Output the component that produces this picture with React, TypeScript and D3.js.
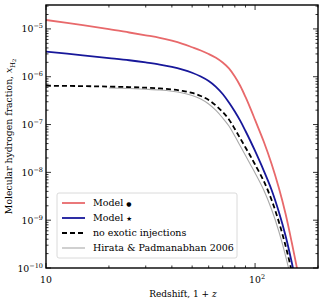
import React, { useEffect, useRef } from 'react';
import * as d3 from 'd3';

// redshift grid (1+z) and the fractions
const redshift = [10, 15, 20, 25, 30, 35, 40, 45, 50, 55, 60, 65, 70, 75, 80, 85, 90, 95, 100, 110, 120, 130, 140, 150, 160];

const modelDot = [1.536e-5, 1.196e-5, 9.91e-6, 8.41e-6, 7.35e-6, 6.52e-6, 5.67e-6, 4.88e-6, 4.14e-6, 3.54e-6, 2.99e-6, 2.49e-6, 1.98e-6, 1.49e-6, 1.01e-6, 6.4e-7, 3.77e-7, 2.17e-7, 1.25e-7, 4.42e-8, 1.5e-8, 4.71e-9, 1.35e-9, 3.33e-10, 8.25e-11];

const modelStar = [3.34e-6, 2.81e-6, 2.46e-6, 2.21e-6, 1.99e-6, 1.8e-6, 1.61e-6, 1.41e-6, 1.21e-6, 1.01e-6, 8.14e-7, 6.16e-7, 4.35e-7, 2.89e-7, 1.87e-7, 1.19e-7, 7.33e-8, 4.53e-8, 2.8e-8, 1.09e-8, 4.28e-9, 1.48e-9, 4.67e-10, 1.27e-10, 3.2e-11];

const noExotic = [6.49e-7, 6.37e-7, 6.22e-7, 6.07e-7, 5.9e-7, 5.7e-7, 5.43e-7, 5.05e-7, 4.57e-7, 3.95e-7, 3.26e-7, 2.5e-7, 1.83e-7, 1.28e-7, 8.07e-8, 5.11e-8, 3.31e-8, 2.2e-8, 1.46e-8, 6.6e-9, 2.64e-9, 9.17e-10, 2.89e-10, 8.25e-11, 2.1e-11];

// Hirata & Padmanabhan curve starts at 1+z = 20
const hirata = [null, null, 5.81e-7, 5.67e-7, 5.48e-7, 5.28e-7, 4.98e-7, 4.57e-7, 4.05e-7, 3.42e-7, 2.69e-7, 1.97e-7, 1.37e-7, 9.33e-8, 5.76e-8, 3.56e-8, 2.25e-8, 1.46e-8, 9.7e-9, 4.28e-9, 1.67e-9, 5.8e-10, 1.78e-10, 4.86e-11, 1.0e-11];

const legendLabels = ['Model ', 'Model ', 'no exotic injections', 'Hirata & Padmanabhan 2006'];
const legendMarks = ['\u25CF', '\u2605', '', ''];
const yExponents = [-10, -9, -8, -7, -6, -5];

const FONT = '"DejaVu Serif", serif';

const App = () => {
  const ref = useRef<SVGSVGElement | null>(null);

  useEffect(() => {
    const width = 323;
    const height = 304;
    const left = 46, right = 318, top = 5, bottom = 268;

    const svg = d3.select(ref.current);
    svg.selectAll('*').remove();
    svg.attr('width', width).attr('height', height);

    const x = d3.scaleLog().domain([10, 200]).range([left, right]);
    const y = d3.scaleLog().domain([1e-10, Math.pow(10, -4.5)]).range([bottom, top]);

    svg.append('rect').attr('width', width).attr('height', height).attr('fill', 'white');

    svg.append('clipPath').attr('id', 'plot-clip')
      .append('rect').attr('x', left).attr('y', top).attr('width', right - left).attr('height', bottom - top);

    const series = [
      { v: hirata, color: '#aaaaaa', w: 1.1, dash: null },
      { v: noExotic, color: '#000000', w: 1.8, dash: '5,3' },
      { v: modelStar, color: '#17179a', w: 1.8, dash: null },
      { v: modelDot, color: '#e8696b', w: 1.8, dash: null },
    ];

    const line = d3.line<[number, number | null]>()
      .defined(d => d[1] != null)
      .x(d => x(d[0]))
      .y(d => y(d[1] as number))
      .curve(d3.curveCatmullRom.alpha(0.5));

    const g = svg.append('g').attr('clip-path', 'url(#plot-clip)');
    series.forEach(s => {
      g.append('path')
        .attr('d', line(redshift.map((z, i) => [z, s.v[i]] as [number, number | null])))
        .attr('fill', 'none')
        .attr('stroke', s.color)
        .attr('stroke-width', s.w)
        .attr('stroke-dasharray', s.dash);
    });

    // ticks, all inward
    const ticks = svg.append('g').attr('stroke', 'black').attr('stroke-width', 0.8);
    const xMajor = [10, 100];
    const xMinor = [20, 30, 40, 50, 60, 70, 80, 90, 200];
    xMajor.forEach(v => {
      ticks.append('line').attr('x1', x(v)).attr('x2', x(v)).attr('y1', bottom).attr('y2', bottom - 5);
      ticks.append('line').attr('x1', x(v)).attr('x2', x(v)).attr('y1', top).attr('y2', top + 5);
    });
    xMinor.forEach(v => {
      ticks.append('line').attr('x1', x(v)).attr('x2', x(v)).attr('y1', bottom).attr('y2', bottom - 2.5);
      ticks.append('line').attr('x1', x(v)).attr('x2', x(v)).attr('y1', top).attr('y2', top + 2.5);
    });
    yExponents.forEach(e => {
      const v = Math.pow(10, e);
      ticks.append('line').attr('x1', left).attr('x2', left + 5).attr('y1', y(v)).attr('y2', y(v));
      ticks.append('line').attr('x1', right).attr('x2', right - 5).attr('y1', y(v)).attr('y2', y(v));
      for (let m = 2; m <= 9; m++) {
        const mv = m * v;
        if (mv > y.domain()[1]) break;
        ticks.append('line').attr('x1', left).attr('x2', left + 2.5).attr('y1', y(mv)).attr('y2', y(mv));
        ticks.append('line').attr('x1', right).attr('x2', right - 2.5).attr('y1', y(mv)).attr('y2', y(mv));
      }
    });

    svg.append('rect')
      .attr('x', left).attr('y', top).attr('width', right - left).attr('height', bottom - top)
      .attr('fill', 'none').attr('stroke', 'black').attr('stroke-width', 1.4);

    // y tick labels
    yExponents.forEach(e => {
      const t = svg.append('text')
        .attr('x', left - 3).attr('y', y(Math.pow(10, e)) + 3.5)
        .attr('text-anchor', 'end')
        .style('font-family', FONT).style('font-size', '9.3px');
      t.append('tspan').text('10');
      t.append('tspan').attr('dy', -4).style('font-size', '6.5px').text('\u2212' + Math.abs(e));
    });

    // x tick labels
    svg.append('text').attr('x', x(10)).attr('y', 283).attr('text-anchor', 'middle')
      .style('font-family', FONT).style('font-size', '9.3px').text('10');
    const t2 = svg.append('text').attr('x', x(100) - 6).attr('y', 283)
      .style('font-family', FONT).style('font-size', '9.3px');
    t2.append('tspan').text('10');
    t2.append('tspan').attr('dy', -4).style('font-size', '6.5px').text('2');

    // axis labels
    const xl = svg.append('text').attr('x', 183).attr('y', 297).attr('text-anchor', 'middle')
      .style('font-family', FONT).style('font-size', '9px');
    xl.append('tspan').text('Redshift, 1 + ');
    xl.append('tspan').style('font-style', 'italic').text('z');

    const yl = svg.append('text')
      .attr('transform', `translate(12,${(top + bottom) / 2}) rotate(-90)`)
      .attr('text-anchor', 'middle')
      .style('font-family', FONT).style('font-size', '9.3px');
    yl.append('tspan').text('Molecular hydrogen fraction, ');
    yl.append('tspan').style('font-style', 'italic').text('x');
    yl.append('tspan').attr('dy', 2.5).style('font-size', '6.5px').text('H');
    yl.append('tspan').attr('dy', 1.5).style('font-size', '5px').text('2');

    // legend
    const lg = svg.append('g');
    lg.append('rect')
      .attr('x', 57).attr('y', 193).attr('width', 180).attr('height', 65)
      .attr('rx', 2).attr('fill', 'white').attr('fill-opacity', 0.8)
      .attr('stroke', '#d0d0d0').attr('stroke-width', 0.8);
    const order = [series[3], series[2], series[1], series[0]];
    legendLabels.forEach((lab, i) => {
      const cy = 203 + i * 15;
      const s = order[i];
      lg.append('line').attr('x1', 62).attr('x2', 85).attr('y1', cy).attr('y2', cy)
        .attr('stroke', s.color).attr('stroke-width', s.w).attr('stroke-dasharray', s.dash);
      const t = lg.append('text').attr('x', 93).attr('y', cy + 3.3)
        .style('font-family', FONT).style('font-size', '9.5px');
      t.append('tspan').text(lab);
      if (legendMarks[i]) {
        t.append('tspan')
          .style('font-family', '"DejaVu Sans", sans-serif')
          .style('font-size', i === 0 ? '6px' : '6.5px')
          .text(legendMarks[i]);
      }
    });
  }, []);

  return <svg ref={ref} style={{ position: 'absolute', left: 0, top: 0, display: 'block' }} />;
};

export default App;
